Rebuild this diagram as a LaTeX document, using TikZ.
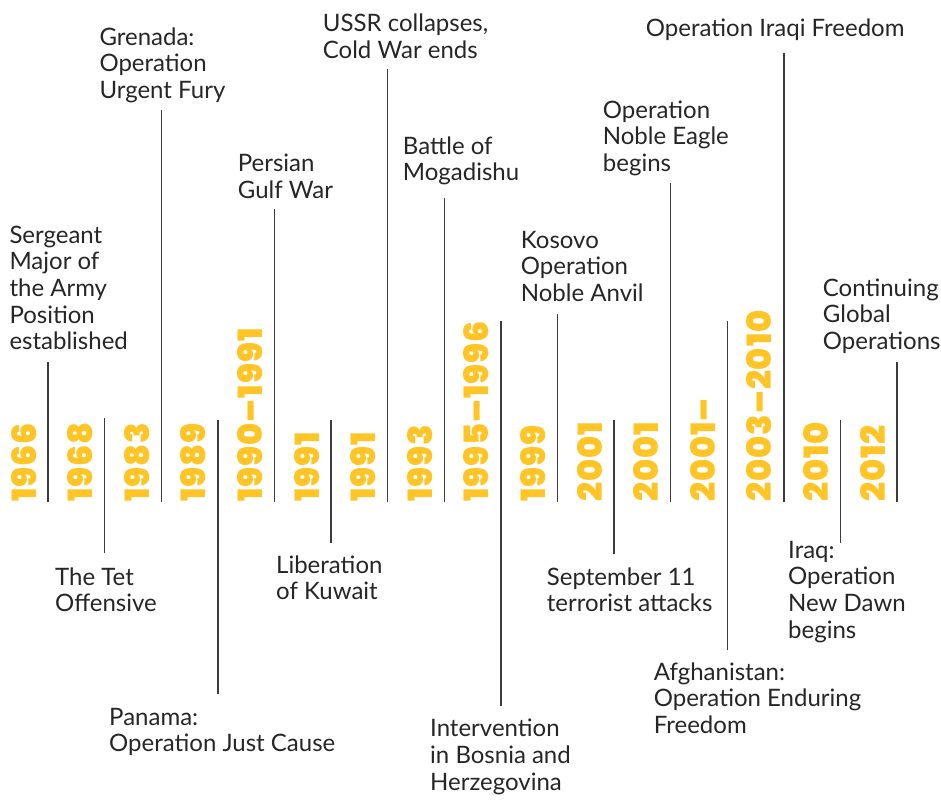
\documentclass[tikz,border=0pt]{standalone}
\usepackage{fontspec}
\newfontfamily\bodyfont{Lato}
\newfontfamily\yearfont{Poppins Black}[LetterSpace=3]
\definecolor{yr}{HTML}{FFC425}
\definecolor{ink}{HTML}{262626}
\definecolor{ln}{HTML}{3C3C3C}
\newcommand\evtlines[1]{\begin{tabular}[t]{@{}l@{}}#1\end{tabular}}
\begin{document}
\begin{tikzpicture}[x=1pt,y=-1pt,
  yearlbl/.style={rotate=90,anchor=base west,inner sep=0pt,text=yr,font=\yearfont\fontsize{33.5}{33.5}\selectfont},
  evt/.style={anchor=base west,inner sep=0pt,text=ink,font=\bodyfont\fontsize{24}{26.67}\selectfont},
  stem/.style={draw=ln,line width=1.4pt}]
\path[use as bounding box] (0,0) rectangle (941,801);

% year labels
\node[yearlbl] (y0)  at (36,502)    {1966};
\node[yearlbl] (y1)  at (92.6,502)  {1968};
\node[yearlbl] (y2)  at (149.2,502) {1983};
\node[yearlbl] (y3)  at (205.8,502) {1989};
\node[yearlbl] (y4)  at (262.4,502) {1990–1991};
\node[yearlbl] (y5)  at (319,502)   {1991};
\node[yearlbl] (y6)  at (375.6,502) {1991};
\node[yearlbl] (y7)  at (432.2,502) {1993};
\node[yearlbl] (y8)  at (488.8,502) {1995–1996};
\node[yearlbl] (y9)  at (545.4,502) {1999};
\node[yearlbl] (y10) at (602,502)   {2001};
\node[yearlbl] (y11) at (658.6,502) {2001};
\node[yearlbl] (y12) at (715.2,502) {2001–};
\node[yearlbl] (y13) at (771.8,502) {2003–2010};
\node[yearlbl] (y14) at (828.4,502) {2010};
\node[yearlbl] (y15) at (885,502)   {2012};

% event labels
\node[evt] (e0)  at (9.3,243.3)  {\evtlines{Sergeant\\Major of\\the Army\\Position\\established}};
\node[evt] (e1)  at (55,585)     {\evtlines{The Tet\\Offensive}};
\node[evt] (e2)  at (99.3,45)    {\evtlines{Grenada:\\Operation\\Urgent Fury}};
\node[evt] (e3)  at (109,725)    {\evtlines{Panama:\\Operation Just Cause}};
\node[evt] (e4)  at (237.7,171.7){\evtlines{Persian\\Gulf War}};
\node[evt] (e5)  at (276,573)    {\evtlines{Liberation\\of Kuwait}};
\node[evt] (e6)  at (322.7,31.7) {\evtlines{USSR collapses,\\Cold War ends}};
\node[evt] (e7)  at (402.7,154)  {\evtlines{Battle of\\Mogadishu}};
\node[evt] (e8)  at (430,736.7)  {\evtlines{Intervention\\in Bosnia and\\Herzegovina}};
\node[evt] (e9)  at (520.7,248.3){\evtlines{Kosovo\\Operation\\Noble Anvil}};
\node[evt] (e10) at (546.7,585)  {\evtlines{September 11\\terrorist attacks}};
\node[evt] (e11) at (602.7,118.3){\evtlines{Operation\\Noble Eagle\\begins}};
\node[evt] (e12) at (653.6,680)  {\evtlines{Afghanistan:\\Operation Enduring\\Freedom}};
\node[evt] (e13) at (645.7,36)   {\evtlines{Operation Iraqi Freedom}};
\node[evt] (e14) at (788,558)    {\evtlines{Iraq:\\Operation\\New Dawn\\begins}};
\node[evt] (e15) at (822.7,296)  {\evtlines{Continuing\\Global\\Operations}};

% stems
\coordinate (s0t) at (48,362);     \coordinate (s0b) at (48,502);
\coordinate (s1t) at (104.6,418);  \coordinate (s1b) at (104.6,553);
\coordinate (s2t) at (161.2,110);  \coordinate (s2b) at (161.2,502);
\coordinate (s3t) at (217.8,420);  \coordinate (s3b) at (217.8,694);
\coordinate (s4t) at (274.4,209);  \coordinate (s4b) at (274.4,502);
\coordinate (s5t) at (331,420);    \coordinate (s5b) at (331,543);
\coordinate (s6t) at (387.6,69);   \coordinate (s6b) at (387.6,502);
\coordinate (s7t) at (444.2,198);  \coordinate (s7b) at (444.2,502);
\coordinate (s8t) at (500.8,321);  \coordinate (s8b) at (500.8,706);
\coordinate (s9t) at (557.4,314);  \coordinate (s9b) at (557.4,502);
\coordinate (s10t) at (614,420);   \coordinate (s10b) at (614,554);
\coordinate (s11t) at (670.6,183); \coordinate (s11b) at (670.6,502);
\coordinate (s12t) at (727.2,321); \coordinate (s12b) at (727.2,650);
\coordinate (s13t) at (783.8,53);  \coordinate (s13b) at (783.8,502);
\coordinate (s14t) at (840.4,420); \coordinate (s14b) at (840.4,543);
\coordinate (s15t) at (897,362);   \coordinate (s15b) at (897,502);
\foreach \k in {0,...,15} {\draw[stem] (s\k t) -- (s\k b);}
\end{tikzpicture}
\end{document}
